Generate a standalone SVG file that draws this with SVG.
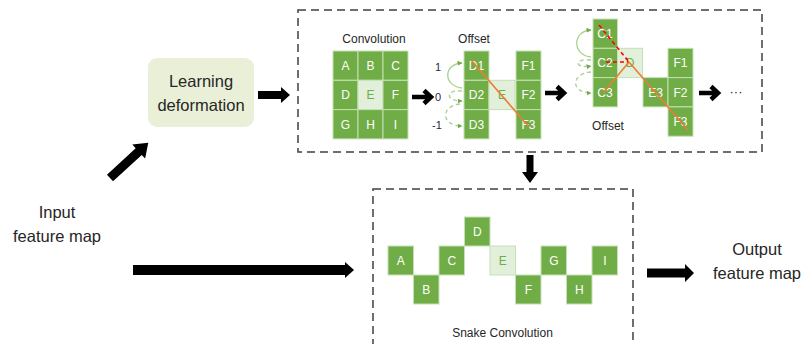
<svg xmlns="http://www.w3.org/2000/svg" width="803" height="344" viewBox="0 0 803 344">
<style>
text{font-family:"Liberation Sans",Arial,sans-serif;fill:#262626}
.lbl{font-size:16.5px;text-anchor:middle}
.cap{font-size:12px;text-anchor:middle}
.c{fill:#70AD47;stroke:#c5e0b4;stroke-width:1}
.l{fill:#E2EFDA;stroke:#c5e0b4;stroke-width:1}
.ct{font-size:12px;text-anchor:middle;fill:#fff}
.lt{font-size:12px;text-anchor:middle;fill:#70AD47}
.num{font-size:11px;text-anchor:middle;fill:#1f2a44}
.dash{fill:none;stroke:#404040;stroke-width:1.5;stroke-dasharray:8 5}
.blk{fill:#000}
.chev{fill:none;stroke:#000;stroke-width:4.5}
.arc{fill:none;stroke:#a9d18e;stroke-width:1.3;marker-end:url(#ga)}
.arcd{fill:none;stroke:#a9d18e;stroke-width:1.3;stroke-dasharray:4 3;marker-end:url(#ga)}
.or{stroke:#ED7D31;stroke-width:1.6;fill:none}
.rd{stroke:#FF0000;stroke-width:1.6;stroke-dasharray:4 3;fill:none}
</style>
<defs>
<marker id="ga" viewBox="0 0 10 10" refX="9" refY="5" markerWidth="5" markerHeight="5" orient="auto" markerUnits="userSpaceOnUse">
<path d="M0,0 L10,5 L0,10 z" fill="#70AD47"/>
</marker>
</defs>

<g id="input-label">
<text class="lbl" x="57" y="218">Input</text>
<text class="lbl" x="57" y="242">feature map</text>
</g>

<g id="learning-deformation">
<rect x="148" y="58" width="106" height="69" rx="9" fill="#EAF0D8"/>
<text class="lbl" x="201" y="87">Learning</text>
<text class="lbl" x="201" y="111">deformation</text>
</g>

<g id="deformation-box">
<rect class="dash" x="298" y="10" width="464" height="142"/>
<g id="convolution-grid">
<text class="cap" x="374" y="43">Convolution</text>
<rect class="c" x="333" y="51" width="25" height="29.3"/>
<rect class="c" x="358" y="51" width="25" height="29.3"/>
<rect class="c" x="383" y="51" width="25" height="29.3"/>
<rect class="c" x="333" y="80.3" width="25" height="29.3"/>
<rect class="l" x="358" y="80.3" width="25" height="29.3"/>
<rect class="c" x="383" y="80.3" width="25" height="29.3"/>
<rect class="c" x="333" y="109.6" width="25" height="29.3"/>
<rect class="c" x="358" y="109.6" width="25" height="29.3"/>
<rect class="c" x="383" y="109.6" width="25" height="29.3"/>
<text class="ct" x="345.5" y="70">A</text>
<text class="ct" x="370.5" y="70">B</text>
<text class="ct" x="395.5" y="70">C</text>
<text class="ct" x="345.5" y="99.3">D</text>
<text class="lt" x="370.5" y="99.3">E</text>
<text class="ct" x="395.5" y="99.3">F</text>
<text class="ct" x="345.5" y="128.6">G</text>
<text class="ct" x="370.5" y="128.6">H</text>
<text class="ct" x="395.5" y="128.6">I</text>
</g>
<g id="offset-1">
<text class="cap" x="474" y="43">Offset</text>
<text class="num" x="438" y="71">1</text>
<text class="num" x="438" y="101">0</text>
<text class="num" x="437" y="129">-1</text>
<rect class="c" x="464" y="51" width="25" height="29.3"/>
<rect class="c" x="464" y="80.3" width="25" height="29.3"/>
<rect class="c" x="464" y="109.6" width="25" height="29.3"/>
<rect class="l" x="489" y="80.3" width="26" height="29.3"/>
<rect class="c" x="516" y="51" width="25" height="29.3"/>
<rect class="c" x="516" y="80.3" width="25" height="29.3"/>
<rect class="c" x="516" y="109.6" width="25" height="29.3"/>
<text class="ct" x="476.5" y="70">D1</text>
<text class="ct" x="476.5" y="99.3">D2</text>
<text class="ct" x="476.5" y="128.6">D3</text>
<text class="lt" x="502" y="99.3">E</text>
<text class="ct" x="528.5" y="70">F1</text>
<text class="ct" x="528.5" y="99.3">F2</text>
<text class="ct" x="528.5" y="128.6">F3</text>
<path class="arc" d="M462,88 C443,86 443,64 462,63"/>
<path class="arcd" d="M462,91 C446,89 444,101 462,101"/>
<path class="arcd" d="M460,104 C440,106 441,126 462,126"/>
<line class="or" x1="471" y1="60" x2="529" y2="127"/>
</g>
<g id="offset-2">
<text class="cap" x="608" y="130">Offset</text>
<rect class="c" x="593" y="19" width="24.5" height="29.3"/>
<rect class="c" x="593" y="48.3" width="24.5" height="29.3"/>
<rect class="c" x="593" y="77.6" width="24.5" height="29.3"/>
<rect class="l" x="617.5" y="48.3" width="25" height="29.3"/>
<rect class="c" x="643" y="77.6" width="25" height="29.3"/>
<rect class="c" x="668" y="48.3" width="25" height="29.3"/>
<rect class="c" x="668" y="77.6" width="25" height="29.3"/>
<rect class="c" x="668" y="106.9" width="25" height="29.3"/>
<text class="ct" x="605" y="38">C1</text>
<text class="ct" x="605" y="67.3">C2</text>
<text class="ct" x="605" y="96.6">C3</text>
<text class="lt" x="630" y="67.3">D</text>
<text class="ct" x="655.5" y="96.6">E3</text>
<text class="ct" x="680.5" y="67.3">F1</text>
<text class="ct" x="680.5" y="96.6">F2</text>
<text class="ct" x="680.5" y="125.9">F3</text>
<path class="arc" d="M591,57 C572,55 572,31 591,30"/>
<path class="arcd" d="M591,60 C574,58 574,69 591,66"/>
<path class="arcd" d="M591,72 C570,74 571,93 591,93"/>
<line class="rd" x1="599" y1="25" x2="629" y2="62"/>
<line class="rd" x1="606" y1="62" x2="629" y2="62"/>
<line class="or" x1="603" y1="93" x2="629" y2="62"/>
<line class="or" x1="629" y1="62" x2="688" y2="130"/>
</g>
<text x="736" y="96" style="font-size:13px;text-anchor:middle">···</text>
</g>

<g id="snake-convolution-box">
<rect class="dash" x="373" y="189" width="260" height="170"/>
<rect class="c" x="388" y="246" width="25.5" height="29"/>
<rect class="c" x="413.5" y="275" width="25.5" height="29"/>
<rect class="c" x="439" y="246" width="25.5" height="29"/>
<rect class="c" x="464.5" y="217" width="25.5" height="29"/>
<rect class="l" x="490" y="246" width="25.5" height="29"/>
<rect class="c" x="515.5" y="275" width="25.5" height="29"/>
<rect class="c" x="541" y="246" width="25.5" height="29"/>
<rect class="c" x="566.5" y="275" width="25.5" height="29"/>
<rect class="c" x="592" y="246" width="25.5" height="29"/>
<text class="ct" x="400.8" y="265">A</text>
<text class="ct" x="426.3" y="294">B</text>
<text class="ct" x="451.8" y="265">C</text>
<text class="ct" x="477.3" y="236">D</text>
<text class="lt" x="502.8" y="265">E</text>
<text class="ct" x="528.3" y="294">F</text>
<text class="ct" x="553.8" y="265">G</text>
<text class="ct" x="579.3" y="294">H</text>
<text class="ct" x="604.8" y="265">I</text>
<text class="cap" x="502.5" y="337">Snake Convolution</text>
</g>

<g id="output-label">
<text class="lbl" x="757" y="255">Output</text>
<text class="lbl" x="757" y="279">feature map</text>
</g>

<g id="connectors">
<polygon class="blk" points="0,-4.5 39,-4.5 39,-9.5 52,0 39,9.5 39,4.5 0,4.5" transform="translate(110,178) rotate(-42.6)"/>
<polygon class="blk" points="258,91 281,91 281,87 290,95 281,103 281,99 258,99"/>
<polygon class="blk" points="133,265 345,265 345,262 354,270 345,278 345,275 133,275"/>
<polygon class="blk" points="647,268.5 685,268.5 685,264 694,273 685,282 685,277.5 647,277.5"/>
<polygon class="blk" points="526.5,155 533.5,155 533.5,172 538,172 530,183 522,172 526.5,172"/>
<path class="chev" d="M412,97 H430 M424,90.5 L431,97 L424,103.5"/>
<path class="chev" d="M545,93 H563 M557,86.5 L564,93 L557,99.5"/>
<path class="chev" d="M699,93 H717 M711,86.5 L718,93 L711,99.5"/>
</g>
</svg>
